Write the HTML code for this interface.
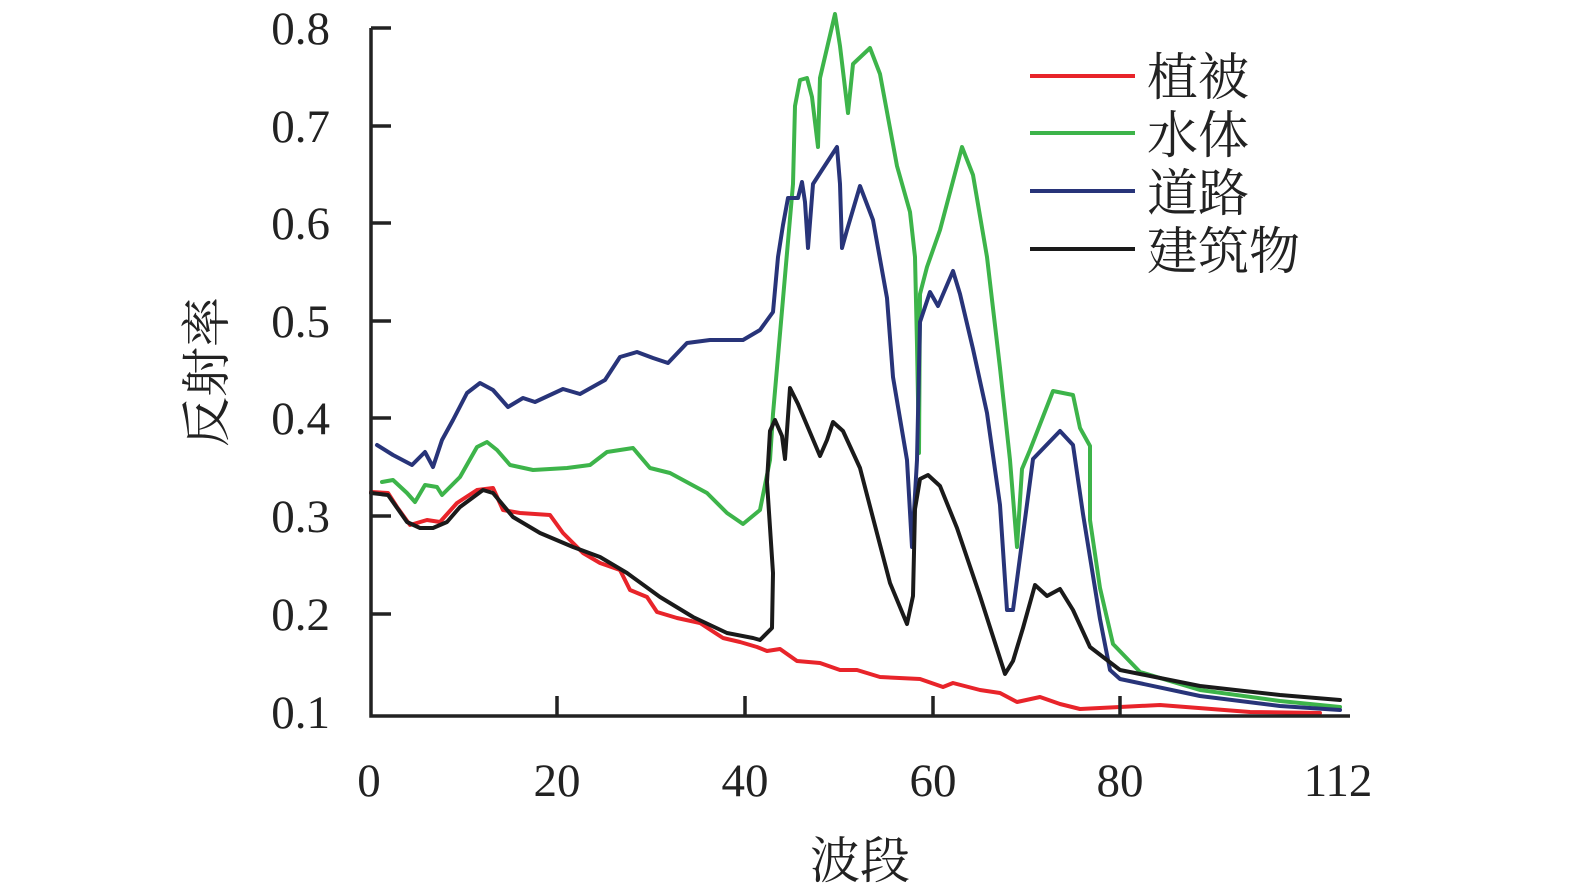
<!DOCTYPE html>
<html><head><meta charset="utf-8"><style>
body{margin:0;background:#fff}
text{font-family:"Liberation Serif","Noto Serif CJK SC",serif;fill:#222}
</style></head><body>
<svg width="1575" height="890" viewBox="0 0 1575 890" xmlns="http://www.w3.org/2000/svg">
<g fill="none" stroke-width="4" stroke-linejoin="round" stroke-linecap="round">
<polyline stroke="#e8242a" points="371,492 388,493 397,507 410,525 427,520 440,522 457,503 477,490 493,488 503,510 520,513 550,515 563,533 583,553 600,563 620,570 630,590 647,597 657,612 677,618 700,623 723,638 740,642 757,647 767,651 780,649 797,661 820,663 840,670 857,670 880,677 920,679 943,687 953,683 980,690 1000,693 1017,702 1040,697 1060,704 1080,709 1120,707 1160,705 1250,712 1320,713"/>
<polyline stroke="#3db44a" points="382,482 393,480 407,493 415,502 425,485 437,487 442,495 460,477 477,447 487,442 497,450 510,465 533,470 567,468 590,465 607,452 633,448 650,468 670,473 707,493 727,513 743,524 760,510 770,460 773,414 783,299 793,184 795,106 800,80 807,78 812,97 818,147 820,78 835,14 840,46 848,113 853,64 870,48 880,74 897,166 910,212 915,257 917,345 919,453 920,294 927,267 940,230 962,147 973,175 987,257 1000,368 1010,460 1017,547 1022,469 1030,450 1053,391 1073,395 1080,428 1090,446 1090,520 1100,588 1113,644 1140,672 1200,690 1280,701 1340,707"/>
<polyline stroke="#283479" points="377,445 393,455 412,465 425,452 433,467 442,440 453,420 467,393 480,383 493,390 508,407 523,398 535,402 563,389 580,394 605,380 620,357 637,352 653,358 668,363 687,343 710,340 743,340 760,330 773,312 778,257 783,225 788,198 798,198 802,182 805,202 808,248 813,184 822,170 837,147 840,184 842,248 847,230 860,186 873,220 887,298 893,377 907,460 912,547 917,460 920,322 930,292 938,306 953,271 960,294 973,349 987,413 1000,505 1007,610 1013,610 1033,459 1060,431 1073,445 1083,514 1100,619 1110,670 1120,679 1200,696 1280,706 1340,710"/>
<polyline stroke="#1a1a1a" points="371,493 388,495 407,522 420,528 433,528 447,522 460,507 483,490 493,493 513,517 540,533 573,547 600,557 627,573 660,597 693,617 727,633 753,638 760,640 772,628 773,573 767,482 770,431 775,420 782,436 785,459 790,388 798,404 820,456 827,440 833,422 843,431 860,468 873,518 890,583 907,624 913,596 915,509 920,479 928,475 940,486 957,528 980,596 1005,674 1013,661 1023,628 1035,585 1047,596 1060,589 1073,610 1090,647 1120,670 1200,686 1280,695 1340,700"/>
</g>
<g stroke="#222" stroke-width="3.5" fill="none">
<polyline points="371,28 371,716 1350,716"/>
<path d="M371,28h20M371,126h20M371,223h20M371,321h20M371,418h20M371,516h20M371,614h20M557,716v-20M745,716v-20M933,716v-20M1120,716v-20"/>
</g>
<g font-size="47" text-anchor="end">
<text x="330" y="44">0.8</text><text x="330" y="142">0.7</text><text x="330" y="239">0.6</text><text x="330" y="337">0.5</text><text x="330" y="434">0.4</text><text x="330" y="532">0.3</text><text x="330" y="630">0.2</text><text x="330" y="728">0.1</text>
</g>
<g font-size="47" text-anchor="middle">
<text x="369" y="796">0</text><text x="557" y="796">20</text><text x="745" y="796">40</text><text x="933" y="796">60</text><text x="1120" y="796">80</text><text x="1338" y="796">112</text>
<text x="860" y="878" font-size="50">波段</text>
<text transform="translate(224,372) rotate(-90)" font-size="50">反射率</text>
</g>
<g stroke-width="4">
<line x1="1030" y1="76" x2="1135" y2="76" stroke="#e8242a"/>
<line x1="1030" y1="133" x2="1135" y2="133" stroke="#3db44a"/>
<line x1="1030" y1="191" x2="1135" y2="191" stroke="#283479"/>
<line x1="1030" y1="249" x2="1135" y2="249" stroke="#1a1a1a"/>
</g>
<g font-size="51">
<text x="1147" y="95">植被</text><text x="1147" y="153">水体</text><text x="1147" y="211">道路</text><text x="1147" y="269">建筑物</text>
</g>
</svg>
</body></html>
